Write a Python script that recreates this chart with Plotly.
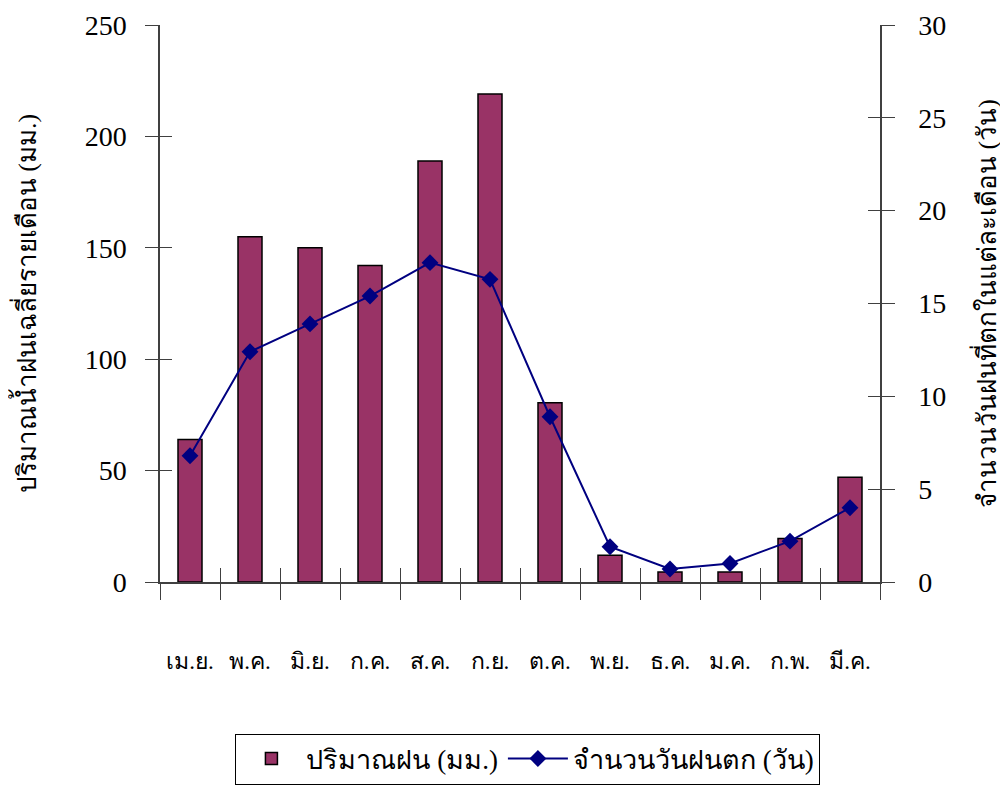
import plotly.graph_objects as go

months = ["เม.ย.", "พ.ค.", "มิ.ย.", "ก.ค.", "ส.ค.", "ก.ย.", "ต.ค.", "พ.ย.", "ธ.ค.", "ม.ค.", "ก.พ.", "มี.ค."]
rainfall_mm = [64, 155, 150, 142, 189, 219, 80.5, 12, 4.5, 4.5, 19.5, 47]
rain_days = [6.8, 12.4, 13.9, 15.4, 17.2, 16.3, 8.9, 1.9, 0.7, 1.0, 2.2, 4.0]

left_ticks = [0, 50, 100, 150, 200, 250]
right_ticks = [0, 5, 10, 15, 20, 25, 30]

FONT = "Liberation Serif, Times New Roman, serif"
BAR_COLOR = "#993366"
LINE_COLOR = "#000080"
AX = "#404040"

fig = go.Figure()
fig.add_trace(go.Bar(
    x=months, y=rainfall_mm, name="ปริมาณฝน (มม.)",
    marker=dict(color=BAR_COLOR, line=dict(color="black", width=1.5)),
    yaxis="y", xaxis="x",
))
fig.add_trace(go.Scatter(
    x=months, y=rain_days, name="จำนวนวันฝนตก (วัน)",
    mode="lines+markers",
    line=dict(color=LINE_COLOR, width=2),
    marker=dict(symbol="diamond", size=13, color=LINE_COLOR),
    yaxis="y2", xaxis="x",
))
# invisible helper traces to carry the inward half of the crossing tick marks
fig.add_trace(go.Scatter(x=months, y=rainfall_mm, xaxis="x3", yaxis="y3",
                         mode="markers", marker=dict(opacity=0), showlegend=False,
                         hoverinfo="skip"))
fig.add_trace(go.Scatter(x=months, y=rain_days, xaxis="x3", yaxis="y4",
                         mode="markers", marker=dict(opacity=0), showlegend=False,
                         hoverinfo="skip"))

fig.update_layout(
    width=1000, height=799,
    margin=dict(l=152, r=128, t=17, b=225, autoexpand=False),
    paper_bgcolor="white", plot_bgcolor="white",
    font=dict(family=FONT, color="black", size=26),
    bargap=0.6,
    showlegend=True,
    legend=dict(
        orientation="h", x=0.511, xanchor="center", y=-0.272, yanchor="top",
        bordercolor="black", borderwidth=1, bgcolor="white",
        font=dict(family=FONT, size=27),
        itemwidth=60,
    ),
    xaxis=dict(
        type="category", categoryarray=months, range=[-0.5, 11.5],
        showline=True, linecolor=AX, linewidth=1.5,
        ticks="outside", ticklen=16, tickcolor=AX, tickwidth=1,
        tickson="boundaries", ticklabelstandoff=58, tickangle=0,
        tickfont=dict(family=FONT, size=23),
        showgrid=False, zeroline=False, anchor="y", automargin=False,
    ),
    xaxis3=dict(
        type="category", categoryarray=months, range=[-0.5, 11.5],
        overlaying="x", anchor="y", showline=False,
        ticks="inside", ticklen=14, tickcolor=AX, tickwidth=1,
        tickson="boundaries", showticklabels=False, showgrid=False, zeroline=False,
        automargin=False,
    ),
    yaxis=dict(
        range=[0, 250], tickmode="array", tickvals=left_ticks,
        showline=True, linecolor=AX, linewidth=1.5,
        ticks="outside", ticklen=13, tickcolor=AX, tickwidth=1,
        ticklabelstandoff=13,
        tickfont=dict(family=FONT, size=28),
        showgrid=False, zeroline=False, automargin=False,
        title=dict(text="ปริมาณน้ำฝนเฉลี่ยรายเดือน (มม.)", standoff=43,
                   font=dict(family=FONT, size=26)),
    ),
    yaxis2=dict(
        range=[0, 30], tickmode="array", tickvals=right_ticks,
        overlaying="y", side="right", anchor="x",
        showline=True, linecolor=AX, linewidth=1.5,
        ticks="outside", ticklen=13, tickcolor=AX, tickwidth=1,
        ticklabelstandoff=18,
        tickfont=dict(family=FONT, size=28),
        showgrid=False, zeroline=False, automargin=False,
        title=dict(text="จำนวนวันฝนที่ตกในแต่ละเดือน (วัน)", standoff=32,
                   font=dict(family=FONT, size=26)),
    ),
    yaxis3=dict(
        range=[0, 250], tickmode="array", tickvals=left_ticks,
        overlaying="y", side="left", anchor="x", showline=False,
        ticks="inside", ticklen=12, tickcolor=AX, tickwidth=1,
        showticklabels=False, showgrid=False, zeroline=False, automargin=False,
    ),
    yaxis4=dict(
        range=[0, 30], tickmode="array", tickvals=right_ticks,
        overlaying="y", side="right", anchor="x", showline=False,
        ticks="inside", ticklen=12, tickcolor=AX, tickwidth=1,
        showticklabels=False, showgrid=False, zeroline=False, automargin=False,
    ),
)

fig.write_html("out.html")
